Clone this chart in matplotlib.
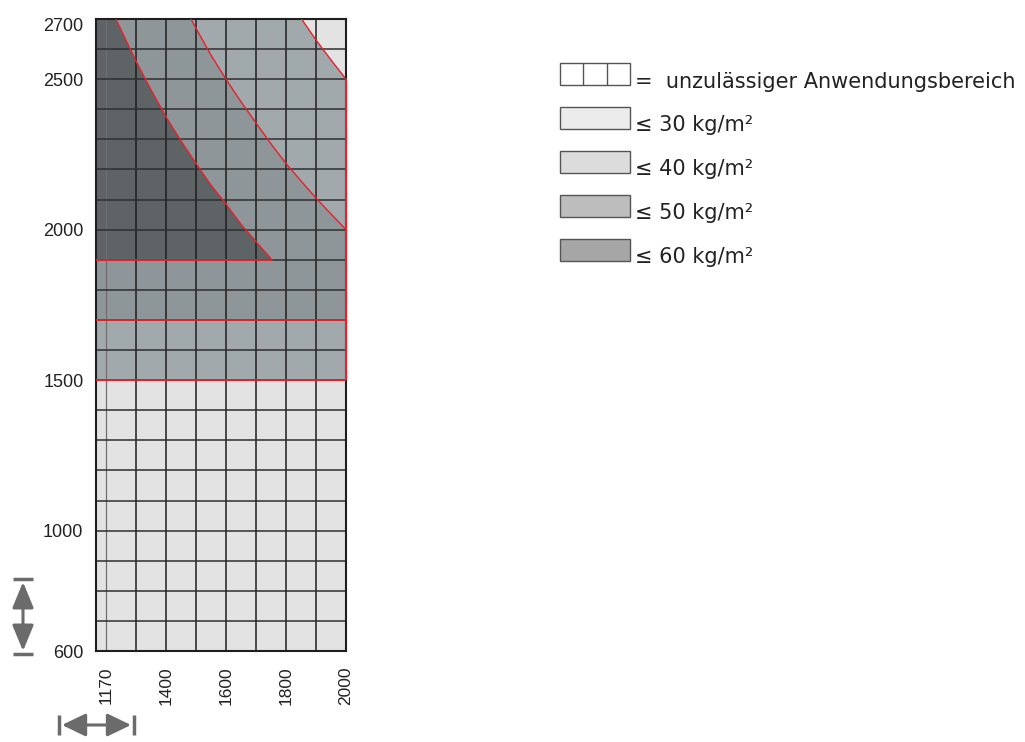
import matplotlib.pyplot as plt
import matplotlib.transforms as mtransforms
from matplotlib.patches import Rectangle, FancyArrowPatch

plt.rcParams['font.family'] = ['Liberation Sans', 'DejaVu Sans']

# Achsen (mm)
x_min, x_max = 1167, 2000
y_min, y_max = 600, 2700
x_ticks = [1200, 1400, 1600, 1800, 2000]
x_tick_labels = ['1170', '1400', '1600', '1800', '2000']
y_ticks = [600, 1000, 1500, 2000, 2500, 2700]
grid_x = [1300, 1400, 1500, 1600, 1700, 1800, 1900]
grid_y = [700, 800, 900, 1000, 1100, 1200, 1300, 1400, 1500, 1600, 1700,
          1800, 1900, 2000, 2100, 2200, 2300, 2400, 2500, 2600]

# Grenzen
limit_low = 1500
limit_mid = 1700
limit_high = 1900

curve_a_x = [1233, 1300, 1350, 1400, 1450, 1500, 1550, 1600, 1650, 1700, 1753]
curve_a_y = [2700, 2560, 2465, 2375, 2295, 2220, 2148, 2085, 2018, 1960, 1900]
curve_b_x = [1483, 1550, 1600, 1650, 1700, 1750, 1800, 1850, 1900, 1950, 2000]
curve_b_y = [2700, 2580, 2500, 2425, 2355, 2285, 2220, 2162, 2105, 2052, 2000]
curve_c_x = [1852, 1900, 1950, 2000]
curve_c_y = [2700, 2630, 2564, 2500]

c_light = '#e3e3e3'
c_med = '#a2a9ad'
c_meddark = '#8f9699'
c_dark = '#5e6366'
c_red = '#e8202a'

legend_labels = ['=  unzulässiger Anwendungsbereich', '≤ 30 kg/m²',
                 '≤ 40 kg/m²', '≤ 50 kg/m²', '≤ 60 kg/m²']
legend_colors = ['white', '#ececec', '#dcdcdc', '#bdbdbd', '#a6a6a6']

fig = plt.figure(figsize=(10.25, 7.42), dpi=100)
ax = fig.add_axes([96 / 1025, 1 - 651 / 742, 250 / 1025, 632 / 742])
ax.set_xlim(x_min, x_max)
ax.set_ylim(y_min, y_max)
ax.set_facecolor(c_light)

ax.axhspan(limit_low, y_max, color=c_med, lw=0, zorder=1)
ax.fill_between(curve_c_x, curve_c_y, y_max, color=c_light, lw=0, zorder=1)
ax.fill([x_min, x_max] + curve_b_x[::-1] + [x_min],
        [limit_mid, limit_mid] + curve_b_y[::-1] + [y_max],
        color=c_meddark, lw=0, zorder=1)
ax.fill([x_min] + curve_a_x[::-1] + [x_min],
        [limit_high] + curve_a_y[::-1] + [y_max],
        color=c_dark, lw=0, zorder=1)

# Raster
ax.vlines(x_ticks[0], y_min, y_max, color='#6e6e6e', lw=0.9, zorder=2)
ax.vlines(grid_x, y_min, y_max, color='#1e1e1e', lw=1.1, zorder=2)
ax.hlines(grid_y, x_min, x_max, color='#2e2e2e', lw=1.1, zorder=2)

# rote Grenzlinien
ax.hlines([limit_low, limit_mid], x_min, x_max, color=c_red, lw=1.3, zorder=4)
ax.hlines(limit_high, x_min, curve_a_x[-1], color=c_red, lw=1.3, zorder=4)
ax.vlines(x_max, limit_low, curve_c_y[-1], color=c_red, lw=1.5, zorder=4, clip_on=False)
for cx, cy in [(curve_a_x, curve_a_y), (curve_b_x, curve_b_y), (curve_c_x, curve_c_y)]:
    ax.plot(cx, cy, color=c_red, lw=1.0, zorder=4)

for s in ax.spines.values():
    s.set_color('#1e1e1e')
    s.set_linewidth(1.5)
    s.set_zorder(3)

ax.set_xticks(x_ticks)
ax.set_xticklabels(x_tick_labels, rotation=90)
ax.set_yticks(y_ticks)
ax.tick_params(length=0, colors='#222222')
ax.tick_params(axis='x', pad=11, labelsize=12.5)
ax.tick_params(axis='y', pad=9, labelsize=13)

# oberste Beschriftung etwas nach unten
top_lab = ax.get_yticklabels()[-1]
top_lab.set_transform(top_lab.get_transform()
                      + mtransforms.ScaledTranslation(0, -6 / 100, fig.dpi_scale_trans))

# Legende und Pfeile in Pixelkoordinaten
ov = fig.add_axes([0, 0, 1, 1])
ov.set_xlim(0, 1025)
ov.set_ylim(742, 0)
ov.axis('off')
ov.patch.set_alpha(0)

for i, (lab, col) in enumerate(zip(legend_labels, legend_colors)):
    top = 63 + i * 44
    ov.add_patch(Rectangle((560, top), 70, 22, facecolor=col, edgecolor='#555555', lw=1))
    if i == 0:
        ov.vlines([583, 607], top, top + 22, color='#555555', lw=1)
    ov.text(635, top + 19 if i == 0 else top + 18, lab, fontsize=15, va='center',
            ha='left', color='#222222', family='DejaVu Sans')

arrow_col = '#6b6b6b'
ov.add_patch(FancyArrowPatch((23, 582), (23, 651), arrowstyle='<|-|>,head_length=15.8,head_width=6.5',
                             mutation_scale=1, color=arrow_col, lw=2.2, shrinkA=0, shrinkB=0))
ov.plot([13, 33], [579, 579], color=arrow_col, lw=2.5, solid_capstyle='butt')
ov.plot([13, 33], [654, 654], color=arrow_col, lw=2.5, solid_capstyle='butt')
ov.add_patch(FancyArrowPatch((62, 725), (131, 725), arrowstyle='<|-|>,head_length=14.5,head_width=7',
                             mutation_scale=1, color=arrow_col, lw=2.2, shrinkA=0, shrinkB=0))
ov.plot([59, 59], [715, 735], color=arrow_col, lw=2.5, solid_capstyle='butt')
ov.plot([134, 134], [715, 735], color=arrow_col, lw=2.5, solid_capstyle='butt')

plt.savefig('out.png', dpi=100)
